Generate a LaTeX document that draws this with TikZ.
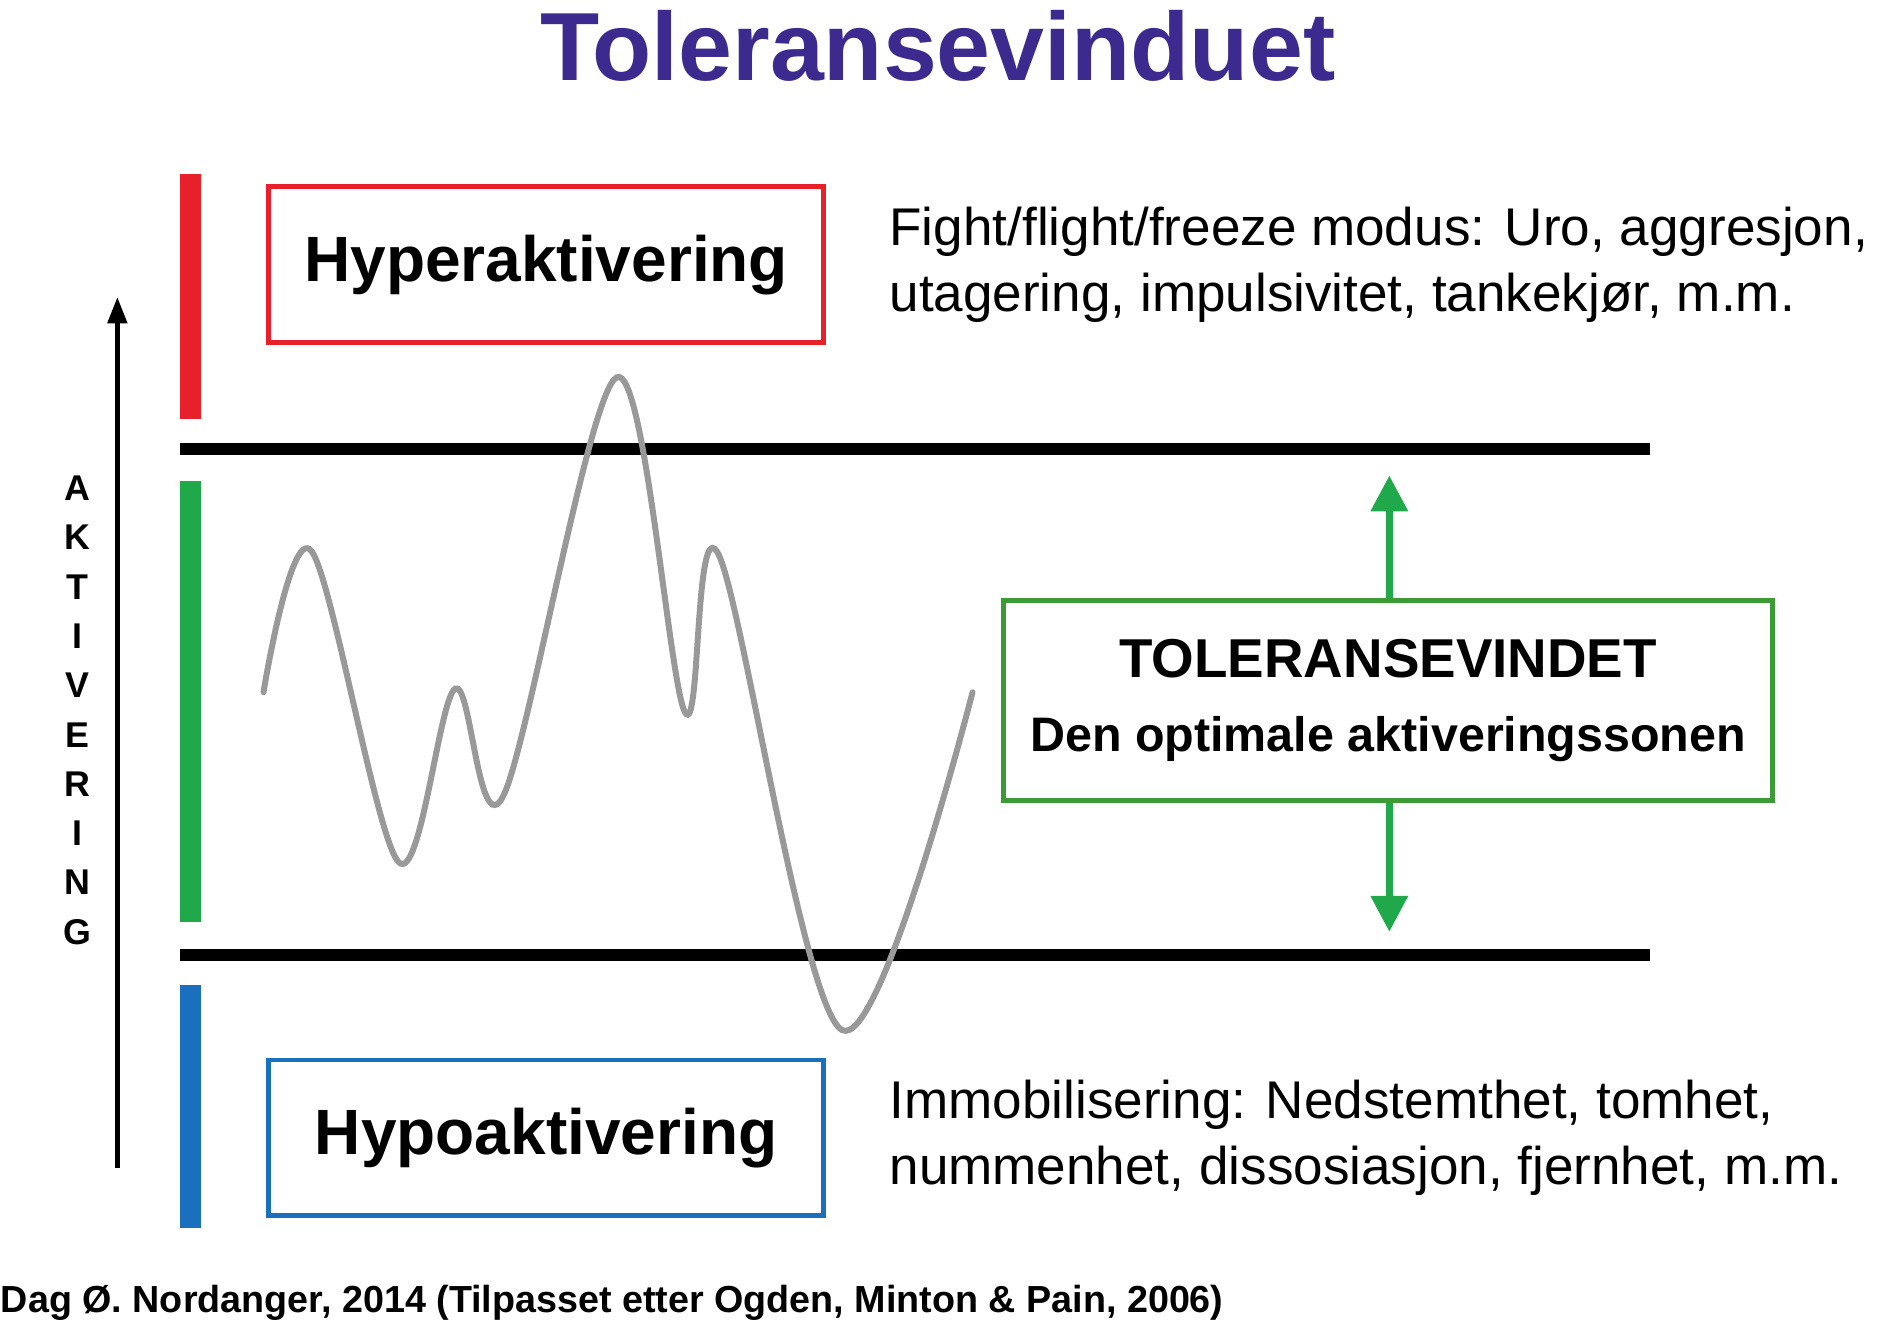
\documentclass[tikz,border=0pt]{standalone}
\usetikzlibrary{arrows.meta}
\usepackage{fontspec}
\setmainfont{Liberation Sans}
\begin{document}
\begin{tikzpicture}[x=0.01cm,y=-0.01cm,
  bar/.style={line width=0.18cm},
  hline/.style={line width=0.1cm},
  lbox/.style={draw,line width=0.04cm,minimum width=4.63cm,minimum height=1.3cm,font=\bfseries\fontsize{15.2}{18}\selectfont},
  desc/.style={anchor=west,align=left,inner sep=0,font=\fontsize{12.6}{15.6}\selectfont},
  garrow/.style={draw=tgreen,line width=0.06cm,-{Triangle[length=0.3cm,width=0.3cm]}}]
\definecolor{ttitle}{HTML}{3D2A8F}
\definecolor{tred}{HTML}{E8202A}
\definecolor{tgreen}{HTML}{1FA94A}
\definecolor{tgbox}{HTML}{3D9B35}
\definecolor{tblue}{HTML}{1A6FBE}
\useasboundingbox (0,0) rectangle (1568,1110);
\node[font=\bfseries\fontsize{23}{28}\selectfont,text=ttitle] (title) at (783,38) {Toleransevinduet};
\draw[bar,tred] (159,145) -- (159,350);
\draw[bar,tgreen] (159,402) -- (159,770);
\draw[bar,tblue] (159,822) -- (159,1025);
\draw[hline] (150,375) -- (1378,375);
\draw[hline] (150,797) -- (1378,797);
\draw[line width=0.04cm,-{Triangle[length=0.22cm,width=0.16cm]}] (98,975) -- (98,248);
\node[font=\bfseries\fontsize{8.5}{10}\selectfont,align=center,inner sep=0] (akt) at (65,593) {A\\[0.06cm]K\\[0.06cm]T\\[0.06cm]I\\[0.06cm]V\\[0.06cm]E\\[0.06cm]R\\[0.06cm]I\\[0.06cm]N\\[0.06cm]G};
\node[lbox,draw=tred] (hyper) at (456,221) {Hyperaktivering};
\node[lbox,draw=tblue] (hypo) at (456,950) {Hypoaktivering};
\node[desc] (hypert) at (742,221) {Fight/flight/freeze modus: Uro, aggresjon,\\utagering, impulsivitet, tankekjør, m.m.};
\node[desc] (hypot) at (742,950) {Immobilisering: Nedstemthet, tomhet,\\nummenhet, dissosiasjon, fjernhet, m.m.};
\node[draw=tgbox,line width=0.04cm,minimum width=6.42cm,minimum height=1.67cm,align=center] (tol) at (1159,585)
 {{\bfseries\fontsize{13}{15}\selectfont TOLERANSEVINDET}\\[0.2cm]{\bfseries\fontsize{11.5}{14}\selectfont Den optimale aktiveringssonen}};
\coordinate (up) at (1160,397);
\coordinate (dn) at (1160,778);
\draw[garrow] (tol.north -| up) -- (up);
\draw[garrow] (tol.south -| dn) -- (dn);
\draw[gray!80,line width=0.05cm,line cap=round] plot[smooth,tension=0.55] coordinates {(220,578) (260,460) (333,720) (380,575) (420,665) (515,315) (572,595) (600,463) (703,860) (812,578)};
\node[anchor=west,font=\bfseries\fontsize{8.95}{11}\selectfont,inner sep=0] (foot) at (0,1088) {Dag Ø. Nordanger, 2014 (Tilpasset etter Ogden, Minton \& Pain, 2006)};
\end{tikzpicture}
\end{document}
